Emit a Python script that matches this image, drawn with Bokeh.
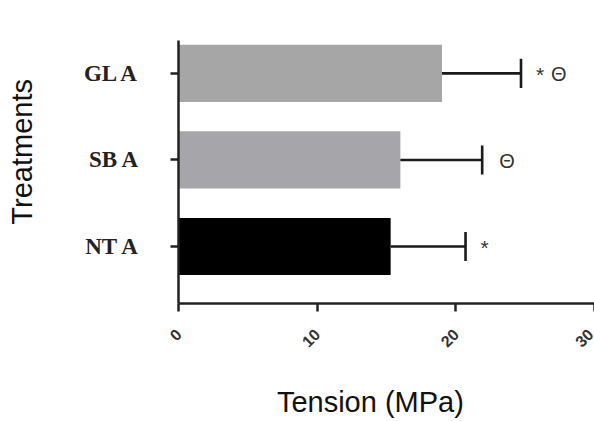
import math
from bokeh.plotting import figure
from bokeh.models import ColumnDataSource, FixedTicker, Range1d
from bokeh.core.properties import value
from bokeh.embed import file_html
from bokeh.resources import INLINE

# ---- data ----
categories = ["NT A", "SB A", "GL A"]
tension_mean = [15.3, 16.0, 19.0]
tension_err = [5.4, 5.9, 5.7]
star_marks = ["*", "", "*"]
theta_marks = ["", "Θ", "Θ"]
x_ticks = [0, 10, 20, 30]
bar_colors = ["#000000", "#a6a5a9", "#a6a6a6"]
x_title = "Tension (MPa)"
y_title = "Treatments"

ypos = list(range(1, len(categories) + 1))
upper = [m + e for m, e in zip(tension_mean, tension_err)]
theta_off = [30 if s else 17 for s in star_marks]

src = ColumnDataSource(dict(
    y=ypos, mean=tension_mean, upper=upper, color=bar_colors,
    star=star_marks, theta=theta_marks, theta_off=theta_off,
    cap_lo=[y - 0.168 for y in ypos], cap_hi=[y + 0.168 for y in ypos],
))

p = figure(width=594, height=421, output_backend="svg", toolbar_location=None,
           x_range=Range1d(0, 30), y_range=Range1d(0.341, 3.38),
           min_border_left=178, min_border_right=0, min_border_top=40,
           min_border_bottom=118)

p.hbar(y="y", left=0, right="mean", height=0.66, fill_color="color",
       line_color=None, source=src)
p.segment(x0="mean", y0="y", x1="upper", y1="y", line_color="#1a1a1a",
          line_width=2.6, source=src)
p.segment(x0="upper", y0="cap_lo", x1="upper", y1="cap_hi", line_color="#1a1a1a",
          line_width=2.6, source=src)

p.text(x="upper", y="y", text="star", x_offset=15, y_offset=1, source=src,
       text_font=value("Liberation Sans"), text_font_size="21px",
       text_color="#333333", text_align="left", text_baseline="middle")
p.text(x="upper", y="y", text="theta", x_offset="theta_off", y_offset=1, source=src,
       text_font=value("Liberation Sans"), text_font_size="20px",
       text_color="#333333", text_align="left", text_baseline="middle")

p.grid.visible = False
p.outline_line_color = None

NB = "\u00a0"

xa = p.xaxis[0]
xa.ticker = FixedTicker(ticks=x_ticks)
xa.minor_tick_line_color = None
xa.major_tick_out = 8
xa.major_tick_in = 0
xa.axis_line_width = 2.5
xa.major_tick_line_width = 2.5
xa.axis_line_color = "#222222"
xa.major_tick_line_color = "#222222"
xa.major_label_orientation = math.pi / 4
xa.major_label_text_font = "Liberation Sans"
xa.major_label_text_font_style = "bold"
xa.major_label_text_font_size = "16px"
xa.major_label_text_color = "#333333"
xa.major_label_standoff = 20
xa.axis_label = x_title + NB * 4
xa.axis_label_standoff = 30
xa.axis_label_text_font = "Liberation Sans"
xa.axis_label_text_font_size = "29px"
xa.axis_label_text_font_style = "normal"
xa.axis_label_text_color = "#111111"

ya = p.yaxis[0]
ya.ticker = FixedTicker(ticks=ypos)
ya.major_label_overrides = {y: c for y, c in zip(ypos, categories)}
ya.minor_tick_line_color = None
ya.major_tick_out = 8
ya.major_tick_in = 0
ya.axis_line_width = 2.5
ya.major_tick_line_width = 2.5
ya.axis_line_color = "#222222"
ya.major_tick_line_color = "#222222"
ya.major_label_text_font = "Liberation Serif"
ya.major_label_text_font_style = "bold"
ya.major_label_text_font_size = "23px"
ya.major_label_text_color = "#222222"
ya.major_label_standoff = 31
ya.axis_label = NB * 5 + y_title
ya.axis_label_standoff = 43
ya.axis_label_text_font = "Liberation Sans"
ya.axis_label_text_font_size = "29px"
ya.axis_label_text_font_style = "normal"
ya.axis_label_text_color = "#111111"

open("out.html", "w").write(file_html(p, INLINE))
